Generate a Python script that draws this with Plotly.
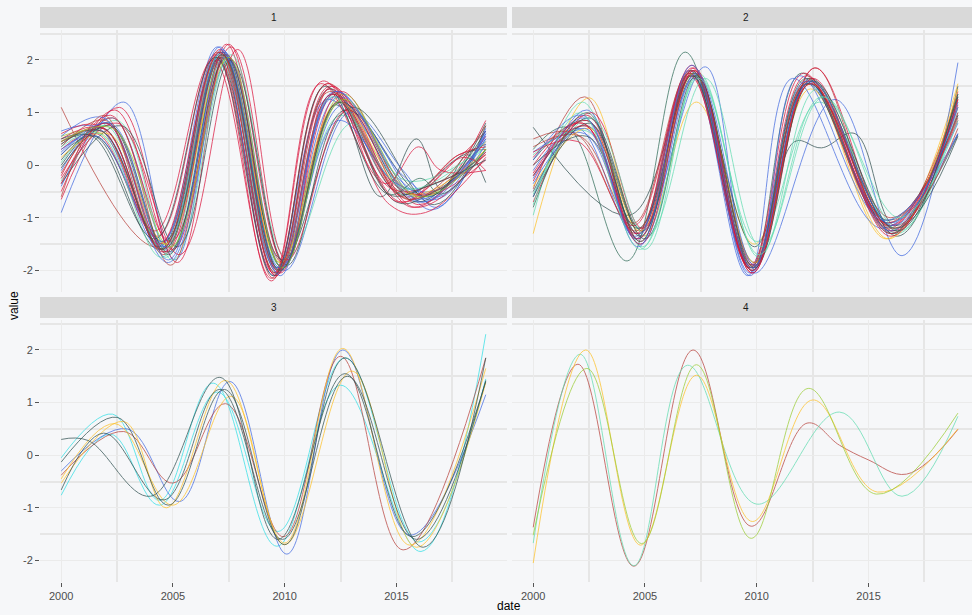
import plotly.graph_objects as go

# ---------------- data (knots) ----------------
X_TICKS = [2000, 2005, 2010, 2015]
X_LABELS = ["2000", "2005", "2010", "2015"]
Y_TICKS = [-2, -1, 0, 1, 2]
Y_LABELS = ["-2", "-1", "0", "1", "2"]
PANEL_NAMES = ["1", "2", "3", "4"]

# panel 1
P1_T = [
    [2000, 2001.9, 2004.5, 2007.1, 2009.6, 2012.0, 2015.3, 2017.8, 2019],
    [2000, 2002.8, 2005.1, 2007.4, 2009.9, 2012.6, 2016.6, 2019],
    [2000, 2004.3, 2007.0, 2009.5, 2011.9, 2015.4, 2017.8, 2019],
    [2000, 2001.6, 2004.6, 2007.2, 2009.7, 2012.3, 2014.3, 2015.9, 2017.0, 2018.2, 2019],
    [2000, 2002.3, 2004.9, 2007.3, 2009.8, 2012.4, 2016.2, 2019],
    [2000, 2002.6, 2005.2, 2007.5, 2010.0, 2012.5, 2016.0, 2019],
    [2000, 2001.5, 2004.4, 2007.0, 2009.6, 2012.0, 2015.2, 2017.8, 2019],
    [2000, 2002.0, 2004.7, 2007.2, 2009.8, 2012.5, 2015.6, 2019],
    [2000, 2001.8, 2004.6, 2007.3, 2009.8, 2012.6, 2015.8, 2019],
    [2000, 2002.2, 2004.9, 2007.6, 2010.0, 2012.1, 2015.0, 2016.6, 2019],
    [2000, 2001.7, 2004.4, 2007.0, 2009.5, 2011.9, 2015.0, 2017.0, 2019],
    [2000, 2002.1, 2004.8, 2007.3, 2009.9, 2013.0, 2016.7, 2019],
    [2000, 2001.6, 2004.3, 2006.9, 2009.4, 2011.7, 2014.8, 2017.0, 2019],
    [2000, 2002.0, 2004.6, 2007.1, 2009.7, 2012.2, 2015.5, 2019],
    [2000, 2001.8, 2004.8, 2007.5, 2010.0, 2012.9, 2015.3, 2016.8, 2019],
    [2000, 2002.4, 2005.0, 2007.4, 2009.8, 2012.3, 2015.7, 2019],
    [2000, 2001.9, 2004.5, 2007.2, 2009.7, 2012.1, 2015.0, 2016.5, 2019],
    [2000, 2002.5, 2005.0, 2007.6, 2010.1, 2013.0, 2015.5, 2019],
    [2000, 2001.7, 2004.2, 2006.8, 2009.4, 2011.6, 2014.5, 2016.0, 2017.0, 2019],
    [2000, 2002.0, 2004.7, 2007.2, 2009.7, 2012.2, 2016.0, 2019],
    [2000, 2002.7, 2005.2, 2007.6, 2010.1, 2012.7, 2016.4, 2019],
    [2000, 2001.8, 2004.6, 2007.1, 2009.6, 2012.0, 2014.7, 2016.3, 2019],
    [2000, 2002.1, 2004.7, 2007.3, 2009.8, 2012.4, 2015.6, 2019],
    [2000, 2001.6, 2004.5, 2007.1, 2009.6, 2012.3, 2015.2, 2016.8, 2019],
    [2000, 2002.3, 2004.9, 2007.4, 2009.9, 2012.5, 2015.8, 2019],
    [2000, 2001.9, 2004.4, 2007.0, 2009.5, 2011.9, 2015.1, 2017.8, 2019],
    [2000, 2002.2, 2004.8, 2007.4, 2009.9, 2012.5, 2015.9, 2019],
    [2000, 2001.9, 2004.6, 2007.2, 2009.8, 2012.4, 2014.8, 2016.2, 2019],
    [2000, 2002.5, 2005.3, 2007.9, 2010.1, 2012.8, 2015.8, 2019],
    [2000, 2001.7, 2004.5, 2007.1, 2009.7, 2012.1, 2015.4, 2019],
    [2000, 2001.4, 2004.2, 2006.9, 2009.5, 2011.8, 2014.6, 2016.4, 2019],
    [2000, 2002.2, 2004.8, 2007.3, 2009.8, 2012.2, 2015.3, 2016.9, 2019],
    [2000, 2002.0, 2004.7, 2007.2, 2009.7, 2012.1, 2015.2, 2018.0, 2019],
    [2000, 2002.3, 2004.9, 2007.5, 2009.9, 2012.6, 2016.0, 2019],
    [2000, 2001.9, 2004.5, 2007.1, 2009.6, 2012.0, 2015.6, 2019],
    [2000, 2001.8, 2004.6, 2007.2, 2009.8, 2012.4, 2014.7, 2016.1, 2017.0, 2019],
]
P1_V = [
    [0.40, 0.70, -1.60, 2.20, -2.10, 1.50, -0.60, 0.15, 0.65],
    [-0.90, 1.20, -1.80, 2.10, -1.95, 1.15, -0.85, 0.70],
    [1.10, -1.55, 2.15, -2.15, 1.55, -0.55, 0.20, 0.30],
    [0.45, 0.55, -1.45, 2.05, -1.95, 1.15, -0.60, 0.50, -0.45, 0.20, -0.33],
    [-0.40, 0.90, -1.65, 2.15, -2.00, 1.30, -0.70, 0.60],
    [-0.65, 1.10, -1.85, 2.30, -1.85, 1.40, -0.75, 0.85],
    [0.20, 0.55, -1.60, 2.05, -2.05, 1.45, -0.55, 0.15, 0.40],
    [0.05, 0.75, -1.75, 2.00, -1.90, 0.95, -0.45, 0.35],
    [0.55, 0.60, -1.50, 1.95, -1.85, 1.35, -0.60, 0.30],
    [-0.20, 0.95, -1.45, 2.25, -1.90, 1.50, -0.40, -0.55, 0.10],
    [0.65, 0.70, -1.55, 2.25, -2.10, 1.25, -0.35, -0.45, 0.50],
    [0.00, 0.80, -1.70, 2.10, -1.80, 1.10, -0.75, 0.75],
    [0.30, 0.60, -1.35, 2.10, -2.20, 1.60, -0.45, -0.30, 0.20],
    [0.35, 0.85, -1.70, 2.05, -2.05, 1.35, -0.65, 0.45],
    [0.25, 0.65, -1.85, 2.00, -2.00, 1.00, -0.10, -0.80, 0.60],
    [-0.50, 1.05, -1.60, 2.30, -2.05, 1.40, -0.80, 0.55],
    [0.10, 0.70, -1.60, 2.15, -2.00, 1.35, -0.70, -0.55, 0.25],
    [-0.30, 0.85, -1.80, 2.10, -1.75, 0.80, -0.30, 0.35],
    [0.60, 0.75, -1.25, 2.00, -2.15, 1.55, -0.35, 0.35, -0.10, -0.10],
    [-0.10, 0.80, -1.55, 2.20, -2.05, 1.30, -0.65, 0.55],
    [-0.35, 0.75, -1.55, 2.00, -1.90, 1.05, -0.60, 0.80],
    [0.45, 0.65, -1.65, 2.15, -2.10, 1.45, -0.75, -0.90, 0.15],
    [0.15, 0.60, -1.50, 2.05, -1.85, 1.20, -0.55, 0.30],
    [0.30, 0.55, -1.45, 2.25, -1.95, 1.40, -0.30, -0.65, 0.40],
    [-0.15, 0.90, -1.90, 2.10, -1.85, 1.25, -0.55, 0.20],
    [0.50, 0.70, -1.50, 2.00, -2.05, 1.55, -0.70, 0.20, 0.35],
    [-0.05, 0.75, -1.65, 2.05, -1.95, 1.20, -0.70, 0.65],
    [0.55, 0.90, -1.55, 2.15, -1.95, 0.85, -0.30, -0.70, 0.50],
    [-0.25, 0.80, -1.70, 2.20, -1.80, 1.05, -0.80, 0.25],
    [0.35, 0.60, -1.75, 2.10, -2.00, 1.30, -0.45, 0.45],
    [0.50, 0.55, -1.40, 2.05, -2.10, 1.50, -0.55, -0.40, 0.10],
    [0.20, 0.80, -1.80, 2.05, -2.10, 1.40, -0.20, -0.60, 0.65],
    [-0.35, 0.80, -1.65, 2.10, -2.00, 1.35, -0.70, 0.15, -0.10],
    [0.45, 0.70, -1.55, 2.05, -1.95, 1.25, -0.60, 0.30],
    [-0.60, 0.95, -1.60, 2.15, -2.05, 1.40, -0.65, 0.75],
    [0.40, 0.65, -1.60, 2.10, -2.00, 1.20, -0.55, -0.25, -0.55, 0.30],
]

# panel 2
P2_T = [
    [2000, 2002.5, 2004.9, 2007.3, 2009.9, 2012.4, 2015.8, 2019],
    [2000, 2002.3, 2004.6, 2007.0, 2009.8, 2012.6, 2015.9, 2019],
    [2000, 2002.2, 2005.0, 2007.4, 2010.0, 2012.8, 2016.3, 2019],
    [2000, 2002.4, 2004.7, 2007.7, 2009.9, 2013.5, 2016.5, 2019],
    [2000, 2001.5, 2004.2, 2006.8, 2009.7, 2012.0, 2015.9, 2019],
    [2000, 2002.4, 2004.8, 2007.1, 2009.9, 2011.7, 2012.9, 2014.4, 2016.2, 2019],
    [2000, 2004.3, 2007.2, 2009.8, 2012.2, 2015.9, 2019],
    [2000, 2002.4, 2004.8, 2007.1, 2009.8, 2012.3, 2016.0, 2019],
    [2000, 2002.2, 2004.7, 2007.0, 2009.7, 2012.2, 2015.9, 2019],
    [2000, 2002.0, 2004.6, 2007.0, 2009.6, 2011.6, 2015.6, 2019],
    [2000, 2002.5, 2004.9, 2007.2, 2009.9, 2012.4, 2016.1, 2019],
    [2000, 2002.4, 2004.9, 2007.4, 2010.1, 2012.7, 2016.2, 2019],
    [2000, 2002.6, 2004.9, 2007.2, 2009.9, 2012.6, 2016.1, 2019],
    [2000, 2002.3, 2004.7, 2007.2, 2009.7, 2012.3, 2015.9, 2019],
    [2000, 2002.1, 2004.5, 2007.0, 2009.8, 2012.3, 2016.0, 2019],
    [2000, 2002.4, 2004.8, 2007.1, 2009.8, 2012.4, 2016.3, 2019],
    [2000, 2002.2, 2004.6, 2007.1, 2009.8, 2012.4, 2016.0, 2019],
    [2000, 2002.5, 2004.8, 2007.2, 2009.9, 2012.4, 2015.9, 2019],
    [2000, 2002.3, 2004.6, 2007.1, 2009.7, 2012.2, 2016.0, 2019],
    [2000, 2002.0, 2004.5, 2007.0, 2009.7, 2012.1, 2015.8, 2019],
    [2000, 2002.4, 2004.8, 2007.1, 2009.8, 2012.2, 2016.0, 2019],
    [2000, 2002.6, 2005.1, 2007.7, 2010.2, 2013.0, 2016.4, 2019],
    [2000, 2002.4, 2004.7, 2007.2, 2009.8, 2012.3, 2016.2, 2019],
    [2000, 2002.4, 2004.7, 2007.2, 2009.8, 2012.5, 2016.0, 2019],
    [2000, 2002.3, 2004.8, 2007.3, 2009.9, 2011.9, 2015.7, 2019],
    [2000, 2001.9, 2004.6, 2007.1, 2009.8, 2012.3, 2016.1, 2019],
    [2000, 2002.5, 2005.0, 2007.3, 2009.9, 2012.5, 2016.3, 2019],
    [2000, 2002.3, 2004.8, 2007.2, 2009.8, 2012.4, 2016.0, 2019],
    [2000, 2002.2, 2004.7, 2007.1, 2009.8, 2012.4, 2016.1, 2019],
    [2000, 2002.1, 2004.8, 2007.4, 2010.1, 2012.9, 2016.4, 2019],
]
P2_V = [
    [-1.30, 1.28, -1.35, 1.20, -1.50, 1.45, -1.40, 1.55],
    [-0.45, 1.30, -1.40, 1.80, -1.95, 1.85, -1.20, 1.30],
    [-0.95, 1.20, -1.60, 1.75, -1.45, 1.20, -1.30, 1.20],
    [-0.60, 1.05, -1.30, 1.87, -2.05, 1.25, -1.72, 1.95],
    [0.30, 0.72, -1.82, 2.15, -1.95, 1.75, -1.10, 0.95],
    [0.10, 0.85, -1.20, 1.70, -1.55, 0.45, 0.33, 0.60, -1.15, 0.58],
    [0.72, -0.95, 1.75, -1.90, 1.55, -1.05, 0.95],
    [-0.30, 0.95, -1.45, 1.85, -2.00, 1.60, -1.25, 1.40],
    [0.15, 0.80, -1.30, 1.75, -1.95, 1.70, -1.15, 1.10],
    [-0.10, 0.70, -1.35, 1.80, -2.10, 1.65, -1.20, 0.80],
    [-0.50, 0.90, -1.25, 1.70, -1.85, 1.65, -1.30, 1.35],
    [0.20, 0.65, -1.55, 1.70, -1.75, 1.45, -1.20, 1.00],
    [-0.70, 1.00, -1.20, 1.80, -1.90, 1.85, -1.25, 1.25],
    [0.25, 0.60, -1.40, 1.65, -2.05, 1.55, -1.10, 0.60],
    [0.35, 0.55, -1.10, 1.75, -1.90, 1.65, -1.00, 0.90],
    [-0.20, 0.75, -1.35, 1.70, -2.00, 1.60, -1.35, 1.50],
    [0.00, 0.80, -1.30, 1.90, -2.05, 1.55, -1.15, 1.15],
    [-0.40, 0.70, -1.25, 1.75, -1.85, 1.55, -1.40, 1.45],
    [-0.25, 0.90, -1.40, 1.80, -2.10, 1.60, -1.25, 1.20],
    [0.25, 0.45, -1.15, 1.70, -1.90, 1.75, -1.10, 0.85],
    [-0.80, 1.00, -1.45, 1.80, -1.95, 1.65, -1.30, 1.35],
    [-0.55, 0.90, -1.35, 1.65, -1.55, 1.30, -1.25, 1.10],
    [0.00, 0.55, -1.20, 1.75, -1.95, 1.55, -1.20, 0.55],
    [-0.15, 0.85, -1.40, 1.85, -2.00, 1.65, -1.30, 1.00],
    [-0.35, 0.70, -1.50, 1.75, -1.90, 1.70, -1.05, 0.60],
    [0.50, 0.60, -1.25, 1.80, -1.95, 1.60, -1.20, 0.70],
    [-0.60, 0.80, -1.40, 1.70, -1.95, 1.60, -1.25, 1.30],
    [-0.20, 0.75, -1.50, 1.80, -2.05, 1.55, -1.35, 1.25],
    [0.10, 0.95, -1.55, 1.90, -1.95, 1.60, -1.15, 1.10],
    [-0.75, 1.00, -1.60, 1.65, -1.70, 1.30, -1.00, 0.85],
]

# panel 3
P3_T = [
    [2000, 2002.3, 2004.4, 2006.8, 2009.65, 2012.5, 2016.1, 2019],
    [2000, 2002.2, 2004.4, 2007.0, 2009.7, 2012.7, 2016.0, 2019],
    [2000, 2002.95, 2005.3, 2007.55, 2010.1, 2012.6, 2015.6, 2019],
    [2000, 2002.8, 2005.0, 2007.35, 2009.95, 2012.5, 2015.3, 2019],
    [2000, 2002.8, 2004.7, 2007.35, 2010.0, 2012.6, 2015.6, 2019],
    [2000, 2002.4, 2005.0, 2007.6, 2010.0, 2013.0, 2015.9, 2019],
    [2000, 2001.2, 2004.0, 2007.1, 2009.7, 2012.7, 2015.7, 2019],
    [2000, 2002.5, 2004.8, 2007.3, 2010.0, 2012.7, 2016.2, 2019],
    [2000, 2001.9, 2004.6, 2007.1, 2009.9, 2012.8, 2015.9, 2019],
]
P3_V = [
    [-0.05, 0.78, -0.86, 1.37, -1.73, 1.33, -1.83, 2.30],
    [-0.76, 0.40, -0.95, 1.20, -1.45, 1.85, -1.65, 1.45],
    [-0.30, 0.50, -0.88, 1.40, -1.88, 2.00, -1.52, 1.15],
    [-0.38, 0.45, -0.53, 0.98, -1.55, 1.88, -1.80, 1.85],
    [-0.53, 0.64, -1.00, 1.42, -1.67, 2.03, -1.71, 1.65],
    [-0.45, 0.60, -0.95, 1.12, -1.70, 1.60, -1.75, 1.38],
    [0.30, 0.28, -0.78, 1.48, -1.60, 1.55, -1.55, 1.40],
    [-0.13, 0.72, -0.95, 1.25, -1.70, 1.85, -1.75, 1.85],
    [-0.66, 0.42, -0.85, 1.25, -1.60, 1.50, -1.60, 1.42],
]

# panel 4
P4_T = [
    [2000, 2002.0, 2004.5, 2007.15, 2009.75, 2012.25, 2013.7, 2015.0, 2016.7, 2019],
    [2000, 2002.1, 2004.5, 2006.9, 2010.0, 2013.7, 2016.5, 2019],
    [2000, 2002.35, 2004.8, 2007.3, 2009.8, 2012.5, 2015.4, 2019],
    [2000, 2002.4, 2004.85, 2007.3, 2009.75, 2012.3, 2015.35, 2019],
]
P4_V = [
    [-1.37, 1.73, -2.11, 2.00, -1.35, 0.61, 0.19, -0.09, -0.36, 0.49],
    [-1.67, 1.92, -2.10, 1.71, -0.93, 0.82, -0.78, 0.74],
    [-2.05, 2.00, -1.71, 1.52, -1.26, 1.05, -0.70, 0.50],
    [-1.52, 1.65, -1.68, 1.72, -1.58, 1.27, -0.74, 0.80],
]

# ---------------- styles ----------------
CR = "#DC143C"   # crimson
FB = "#B8403A"   # firebrick
RB = "#4169E1"   # royal blue
DS = "#2F4F4F"   # dark slate
SG = "#2E6B57"   # dark sea green
AQ = "#5FDDB0"   # aquamarine
CY = "#2FE0E6"   # cyan
GD = "#FFC125"   # gold
YG = "#9ACD32"   # yellow green

P1_C = [CR, RB, FB, DS, RB, CR, DS, AQ, YG, CR, RB, DS, CR, FB, RB, CR, DS, AQ,
        CR, RB, DS, CR, GD, RB, FB, CR, DS, RB, CR, AQ, DS, RB, CR, YG, FB, SG]
P2_C = [GD, FB, AQ, RB, SG, DS, DS, CR, CR, RB, DS, AQ, CR, RB, FB, DS, CR, GD,
        RB, CR, SG, AQ, DS, CR, RB, FB, DS, CR, RB, AQ]
P3_C = [CY, CY, RB, FB, GD, GD, DS, DS, DS]
P4_C = [FB, AQ, GD, YG]

BG = "#F6F7F9"
GRID = "#EBEBEB"
MINOR = "#E6E6E6"
W, H = 972, 615

# pixel geometry of the panels (left, right, top, bottom)
PANELS = [
    (40, 507, 30, 292),
    (512, 972, 30, 292),
    (40, 507, 320, 582),
    (512, 972, 320, 582),
]
X_RANGES = [[1999.05, 2019.95], [1999.05, 2019.63], [1999.05, 2019.95], [1999.05, 2019.63]]
Y_RANGE = [-2.41, 2.57]

fig = go.Figure()
data = [(P1_T, P1_V, P1_C), (P2_T, P2_V, P2_C), (P3_T, P3_V, P3_C), (P4_T, P4_V, P4_C)]
for k, (T, V, C) in enumerate(data):
    sfx = "" if k == 0 else str(k + 1)
    for t, v, c in zip(T, V, C):
        fig.add_trace(go.Scatter(
            x=t, y=v, mode="lines",
            line=dict(color=c, width=1, shape="spline", smoothing=1.1),
            opacity=0.72, xaxis="x" + sfx, yaxis="y" + sfx,
            showlegend=False, hoverinfo="skip"))

layout = dict(
    width=W, height=H, margin=dict(l=0, r=0, t=0, b=0),
    paper_bgcolor=BG, plot_bgcolor=BG,
    font=dict(family="Liberation Sans, Arial, sans-serif", color="#4D4D4D", size=11),
    shapes=[], annotations=[],
)
for k, (l, r, t, b) in enumerate(PANELS):
    sfx = "" if k == 0 else str(k + 1)
    bottom_row = k >= 2
    left_col = k % 2 == 0
    layout["xaxis" + sfx] = dict(
        domain=[l / W, r / W], range=X_RANGES[k], anchor="y" + sfx,
        tickvals=X_TICKS, ticktext=X_LABELS, showticklabels=bottom_row,
        ticks="outside" if bottom_row else "", ticklen=4, tickcolor="#555555",
        showgrid=True, gridcolor=GRID, gridwidth=1, zeroline=False, showline=False,
        minor=dict(tickvals=[2002.5, 2007.5, 2012.5, 2017.5], showgrid=True,
                   gridcolor=MINOR, gridwidth=1.8),
        tickfont=dict(size=11, color="#4D4D4D"),
    )
    layout["yaxis" + sfx] = dict(
        domain=[1 - b / H, 1 - t / H], range=Y_RANGE, anchor="x" + sfx,
        tickvals=Y_TICKS, ticktext=Y_LABELS, showticklabels=left_col,
        ticks="outside" if left_col else "", ticklen=4, tickcolor="#555555",
        showgrid=True, gridcolor=GRID, gridwidth=1, zeroline=False, showline=False,
        minor=dict(tickvals=[-1.5, -0.5, 0.5, 1.5, 2.5], showgrid=True,
                   gridcolor=MINOR, gridwidth=1.8),
        tickfont=dict(size=11, color="#4D4D4D"),
    )
    # strip
    st_top, st_bot = t - 23, t - 2
    layout["shapes"].append(dict(
        type="rect", xref="paper", yref="paper", layer="below",
        x0=l / W, x1=(r + 7) / W if r >= W else r / W,
        y0=1 - st_bot / H, y1=1 - st_top / H,
        fillcolor="#D9D9D9", line=dict(width=0)))
    layout["annotations"].append(dict(
        text=PANEL_NAMES[k], xref="paper", yref="paper",
        x=(l + (r if r < W else 979)) / 2 / W, y=1 - (st_top + st_bot) / 2 / H,
        showarrow=False, font=dict(size=10, color="#1A1A1A"),
        xanchor="center", yanchor="middle"))

layout["annotations"].append(dict(
    text="value", xref="paper", yref="paper", x=14 / W, y=1 - 306 / H,
    textangle=-90, showarrow=False, font=dict(size=12, color="#000000"),
    xanchor="center", yanchor="middle"))
layout["annotations"].append(dict(
    text="date", xref="paper", yref="paper", x=509 / W, y=1 - 606 / H,
    showarrow=False, font=dict(size=12, color="#000000"),
    xanchor="center", yanchor="middle"))

fig.update_layout(**layout)
fig.write_html("out.html")
